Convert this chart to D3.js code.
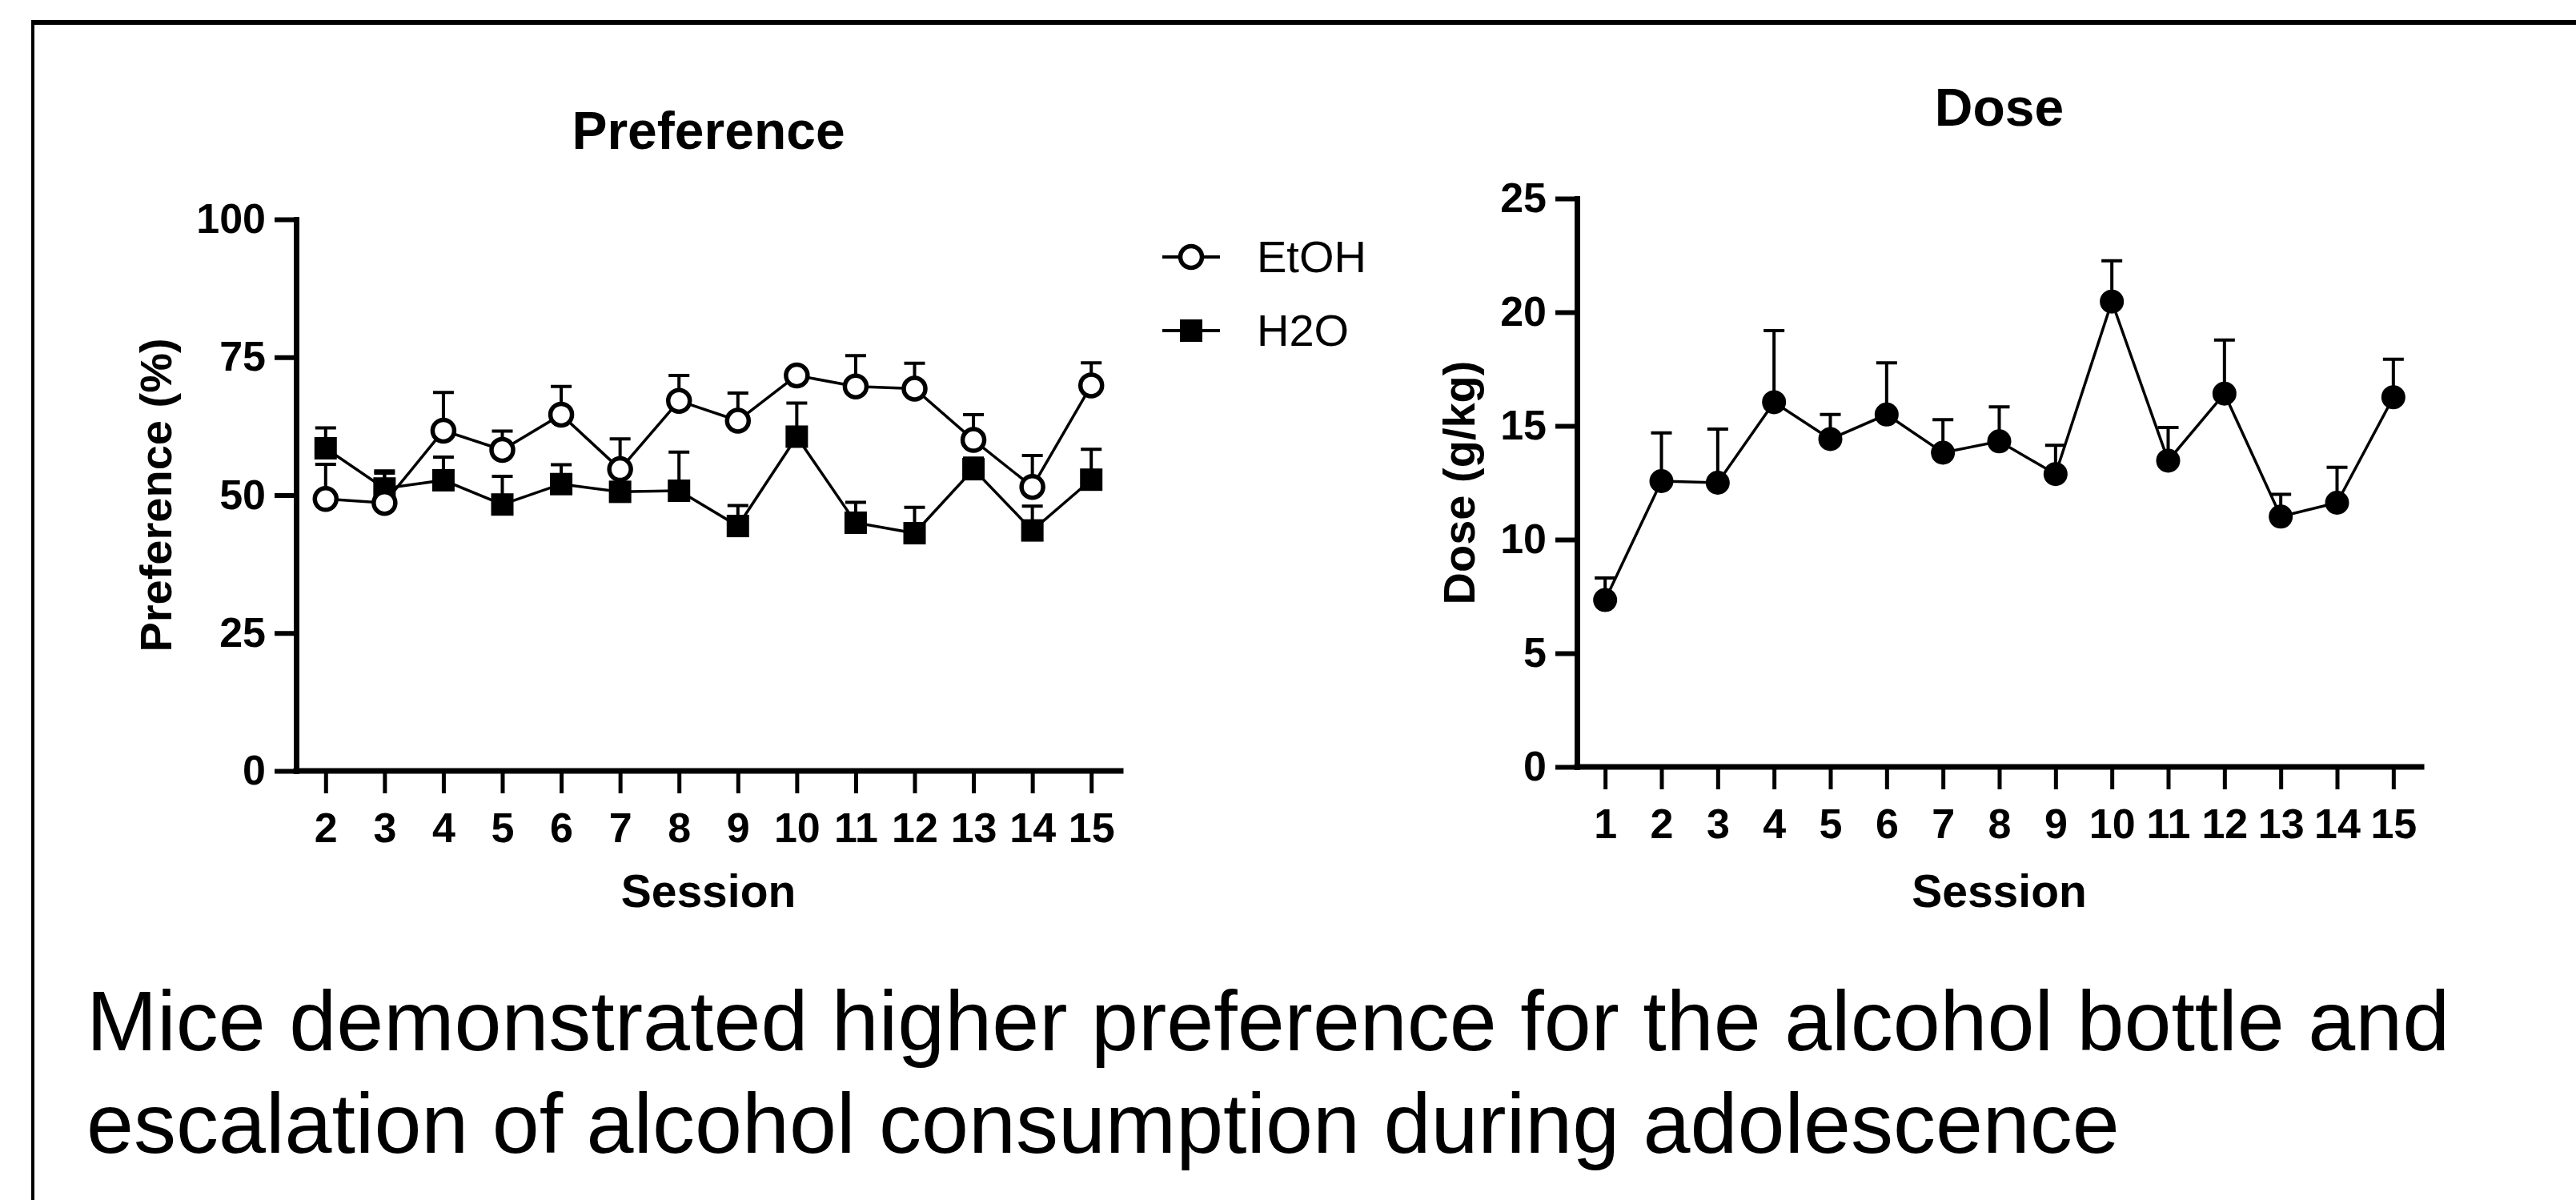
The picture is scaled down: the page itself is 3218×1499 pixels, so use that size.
<!DOCTYPE html>
<html>
<head>
<meta charset="utf-8">
<script src="https://cdn.jsdelivr.net/npm/d3@7"></script>
<style>
  body { margin: 0; background: #fff; }
  svg { display: block; }
  text { font-family: "Liberation Sans", Arial, sans-serif; fill: #000; }
</style>
</head>
<body>
<svg width="3218" height="1499"></svg>
<script>
// data
const prefSessions = [2, 3, 4, 5, 6, 7, 8, 9, 10, 11, 12, 13, 14, 15];
const etohMean = [49.3, 48.6, 61.7, 58.2, 64.6, 54.7, 67.1, 63.5, 71.7, 69.7, 69.3, 60.0, 51.5, 69.9];
const etohSem  = [6.3, 5.4, 6.9, 3.4, 5.1, 5.5, 4.6, 5.0, 0.8, 5.6, 4.6, 4.6, 5.7, 4.1];
const h2oMean  = [58.5, 51.2, 52.7, 48.3, 52.0, 50.6, 50.8, 44.4, 60.6, 45.0, 43.1, 54.7, 43.6, 52.8];
const h2oSem   = [3.7, 3.2, 4.2, 5.1, 3.5, 1.5, 7.0, 3.7, 6.1, 3.7, 4.7, 2.0, 4.4, 5.5];
const prefTicks = [0, 25, 50, 75, 100];

const doseSessions = [1, 2, 3, 4, 5, 6, 7, 8, 9, 10, 11, 12, 13, 14, 15];
const doseMean = [7.34, 12.57, 12.5, 16.04, 14.42, 15.5, 13.82, 14.32, 12.88, 20.47, 13.47, 16.42, 11.01, 11.62, 16.26];
const doseSem  = [0.97, 2.12, 2.36, 3.15, 1.08, 2.27, 1.45, 1.52, 1.27, 1.79, 1.46, 2.36, 0.98, 1.56, 1.67];
const doseTicks = [0, 5, 10, 15, 20, 25];

const legendLabels = ['EtOH', 'H2O'];
const caption = [
  'Mice demonstrated higher preference for the alcohol bottle and',
  'escalation of alcohol consumption during adolescence'
];

const svg = d3.select('svg');

// outer frame (top + left edges visible)
svg.append('line').attr('x1', 41).attr('x2', 3218).attr('y1', 28).attr('y2', 28)
  .attr('stroke', '#000').attr('stroke-width', 6);
svg.append('line').attr('x1', 41).attr('x2', 41).attr('y1', 25).attr('y2', 1499)
  .attr('stroke', '#000').attr('stroke-width', 4);

const styleAxis = (g, tickWidth) => {
  g.select('.domain').attr('stroke-width', 7).attr('stroke-linecap', 'square');
  g.selectAll('.tick line').attr('stroke-width', tickWidth);
  g.selectAll('.tick text')
    .style('font-size', '52px').style('font-weight', 'bold')
    .attr('font-family', null);
};

const drawPanel = opts => {
  const { x, y, yTicks, title, titleY, yLabel, yLabelX } = opts;
  const [x0, x1] = x.range();
  const [y0, y1] = y.range();

  const yAxisG = svg.append('g')
    .attr('transform', `translate(${x0},0)`)
    .call(d3.axisLeft(y).tickValues(yTicks).tickSize(27).tickSizeOuter(0).tickPadding(11));
  styleAxis(yAxisG, 6);

  const xAxisG = svg.append('g')
    .attr('transform', `translate(0,${y0})`)
    .call(d3.axisBottom(x).tickValues(opts.sessions).tickSize(28).tickSizeOuter(0).tickPadding(24));
  xAxisG.select('.domain').attr('d', `M${x0},0H${x1}`);
  styleAxis(xAxisG, 5);

  svg.append('text')
    .attr('x', (x0 + x1) / 2).attr('y', titleY)
    .attr('text-anchor', 'middle')
    .style('font-size', '66px').style('font-weight', 'bold')
    .text(title);

  svg.append('text')
    .attr('x', (x0 + x1) / 2).attr('y', 1133)
    .attr('text-anchor', 'middle')
    .style('font-size', '57px').style('font-weight', 'bold')
    .text('Session');

  svg.append('text')
    .attr('transform', `translate(${yLabelX},${(y0 + y1) / 2}) rotate(-90)`)
    .attr('text-anchor', 'middle')
    .style('font-size', '56px').style('font-weight', 'bold')
    .text(yLabel);
};

const drawSeries = (x, y, sessions, mean, sem, marker) => {
  const pts = sessions.map((s, i) => ({ s, m: mean[i], e: sem[i] }));
  const g = svg.append('g');

  g.selectAll('.err').data(pts).enter().append('path')
    .attr('d', d => `M${x(d.s)},${y(d.m)}V${y(d.m + d.e)}M${x(d.s) - 13},${y(d.m + d.e)}H${x(d.s) + 13}`)
    .attr('fill', 'none').attr('stroke', '#000').attr('stroke-width', 4);

  g.append('path')
    .datum(pts)
    .attr('d', d3.line().x(d => x(d.s)).y(d => y(d.m)))
    .attr('fill', 'none').attr('stroke', '#000').attr('stroke-width', 3.5);

  if (marker === 'square') {
    g.selectAll('.pt').data(pts).enter().append('rect')
      .attr('x', d => x(d.s) - 14).attr('y', d => y(d.m) - 14)
      .attr('width', 28).attr('height', 28).attr('fill', '#000');
  } else if (marker === 'open') {
    g.selectAll('.pt').data(pts).enter().append('circle')
      .attr('cx', d => x(d.s)).attr('cy', d => y(d.m)).attr('r', 13.5)
      .attr('fill', '#fff').attr('stroke', '#000').attr('stroke-width', 5.5);
  } else {
    g.selectAll('.pt').data(pts).enter().append('circle')
      .attr('cx', d => x(d.s)).attr('cy', d => y(d.m)).attr('r', 15)
      .attr('fill', '#000');
  }
};

// Preference panel
const xPref = d3.scaleLinear().domain([1.5, 15.5]).range([370, 1400]);
const yPref = d3.scaleLinear().domain([0, 100]).range([963, 274]);
drawPanel({ x: xPref, y: yPref, yTicks: prefTicks, sessions: prefSessions,
  title: 'Preference', titleY: 186, yLabel: 'Preference (%)', yLabelX: 214 });
drawSeries(xPref, yPref, prefSessions, h2oMean, h2oSem, 'square');
drawSeries(xPref, yPref, prefSessions, etohMean, etohSem, 'open');

// legend
const legend = svg.append('g');
legendLabels.forEach((label, i) => {
  const ly = 321 + i * 92;
  legend.append('line').attr('x1', 1452).attr('x2', 1524).attr('y1', ly).attr('y2', ly)
    .attr('stroke', '#000').attr('stroke-width', 4);
  if (i === 0) {
    legend.append('circle').attr('cx', 1488).attr('cy', ly).attr('r', 13.5)
      .attr('fill', '#fff').attr('stroke', '#000').attr('stroke-width', 5.5);
  } else {
    legend.append('rect').attr('x', 1474).attr('y', ly - 14).attr('width', 28).attr('height', 28)
      .attr('fill', '#000');
  }
  legend.append('text').attr('x', 1570).attr('y', ly + 19)
    .style('font-size', '56px').text(label);
});

// Dose panel
const xDose = d3.scaleLinear().domain([0.5, 15.5]).range([1970, 3025]);
const yDose = d3.scaleLinear().domain([0, 25]).range([958, 248]);
drawPanel({ x: xDose, y: yDose, yTicks: doseTicks, sessions: doseSessions,
  title: 'Dose', titleY: 157, yLabel: 'Dose (g/kg)', yLabelX: 1842 });
drawSeries(xDose, yDose, doseSessions, doseMean, doseSem, 'filled');

// caption
svg.append('g').selectAll('text').data(caption).enter().append('text')
  .attr('x', 108).attr('y', (d, i) => 1312 + i * 128)
  .style('font-size', '106px')
  .text(d => d);
</script>
</body>
</html>
